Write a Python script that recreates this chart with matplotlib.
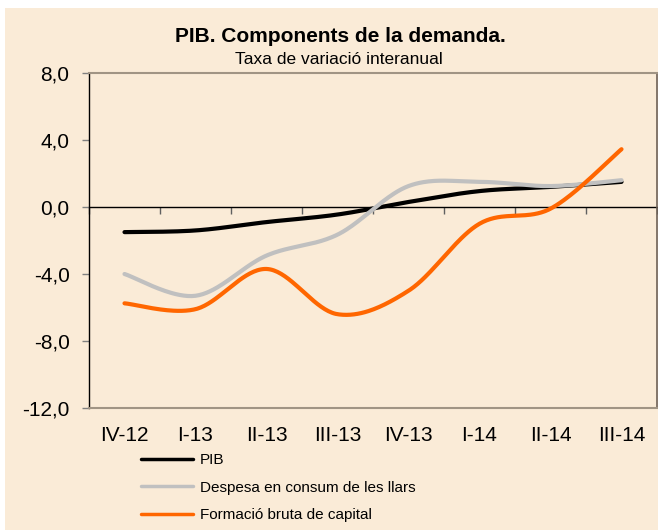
import numpy as np
import matplotlib
matplotlib.use("Agg")
import matplotlib.pyplot as plt
from matplotlib.patches import Rectangle

plt.rcParams['font.family'] = ['Liberation Sans', 'DejaVu Sans']

categories = ["IV-12", "I-13", "II-13", "III-13", "IV-13", "I-14", "II-14", "III-14"]
pib = [-1.5, -1.4, -0.9, -0.45, 0.3, 0.95, 1.2, 1.5]
despesa = [-4.0, -5.3, -2.9, -1.65, 1.25, 1.5, 1.25, 1.6]
formacio = [-5.75, -6.1, -3.7, -6.4, -5.0, -1.0, -0.1, 3.45]

yticks = [-12, -8, -4, 0, 4, 8]

W, H = 658, 530
BG = "#FAEBD7"


def smooth(y, n=40):
    """Excel-like Bezier smoothing through the given points."""
    y = np.asarray(y, float)
    x = np.arange(len(y), dtype=float)
    P = np.column_stack([x, y])
    Pe = np.vstack([P[0], P, P[-1]])
    t = np.linspace(0, 1, n)[:, None]
    out = []
    for i in range(len(P) - 1):
        p0, p3 = Pe[i + 1], Pe[i + 2]
        c1 = p0 + (Pe[i + 2] - Pe[i]) / 6.0
        c2 = p3 - (Pe[i + 3] - Pe[i + 1]) / 6.0
        seg = ((1 - t) ** 3) * p0 + 3 * ((1 - t) ** 2) * t * c1 + 3 * (1 - t) * t ** 2 * c2 + t ** 3 * p3
        out.append(seg if i == 0 else seg[1:])
    out = np.vstack(out)
    return out[:, 0], out[:, 1]


fig = plt.figure(figsize=(W / 100, H / 100), dpi=100)
fig.patch.set_facecolor("white")
fig.add_artist(Rectangle((5 / W, 0), 1 - 5 / W, 1 - 8 / H, transform=fig.transFigure,
                         facecolor=BG, edgecolor="none", zorder=-10))

ax = fig.add_axes([89 / W, 1 - 408 / H, (657 - 89) / W, (408 - 73) / H])
ax.set_facecolor(BG)

lines = []
for vals, col, lab in [(pib, "black", "PIB"),
                       (despesa, "#C0C0C0", "Despesa en consum de les llars"),
                       (formacio, "#FF6600", "Formació bruta de capital")]:
    xs, ys = smooth(vals)
    ln, = ax.plot(xs, ys, color=col, lw=3.0, solid_capstyle="round", label=lab)
    lines.append(ln)

ax.set_xlim(-0.5, len(categories) - 0.5)
ax.set_ylim(-12, 8)
ax.set_yticks(yticks)
ax.set_yticklabels([f"{v:.1f}".replace(".", ",") for v in yticks], fontsize=15)
ax.tick_params(axis="y", direction="out", length=5, width=1, color="#808080", pad=9)
ax.set_xticks(range(len(categories)))
ax.set_xticklabels(categories, fontsize=15)
ax.tick_params(axis="x", length=0, pad=13)

for s in ["top", "bottom"]:
    ax.spines[s].set_color("#A09484")
    ax.spines[s].set_linewidth(1.5)
ax.spines["right"].set_color("#6E6258")
ax.spines["right"].set_linewidth(1.2)
ax.spines["left"].set_color("black")
ax.spines["left"].set_linewidth(1.0)

# zero line axis with category boundary ticks pointing down
sec = ax.secondary_xaxis(0.6)
sec.set_xticks(np.arange(-0.5, len(categories), 1.0))
sec.set_xticklabels([])
sec.xaxis.set_ticks_position("bottom")
sec.tick_params(direction="out", length=5, width=1, color="#606060")
for s in sec.spines.values():
    s.set_color("black")
    s.set_linewidth(1.0)

fig.text(340 / W, 1 - 42 / H, "PIB. Components de la demanda.", ha="center", va="baseline",
         fontsize=15, fontweight="bold")
fig.text(339 / W, 1 - 64 / H, "Taxa de variació interanual", ha="center", va="baseline",
         fontsize=12.5)

leg = fig.legend(handles=lines, loc="upper left", bbox_to_anchor=(141 / W, 1 - 453 / H),
                 frameon=False, fontsize=11, handlelength=3.4, handletextpad=0.45,
                 labelspacing=0.9, borderpad=0, borderaxespad=0)
for l in leg.get_lines():
    l.set_linewidth(2.5)

fig.savefig("out.png", dpi=100, facecolor=fig.get_facecolor())
